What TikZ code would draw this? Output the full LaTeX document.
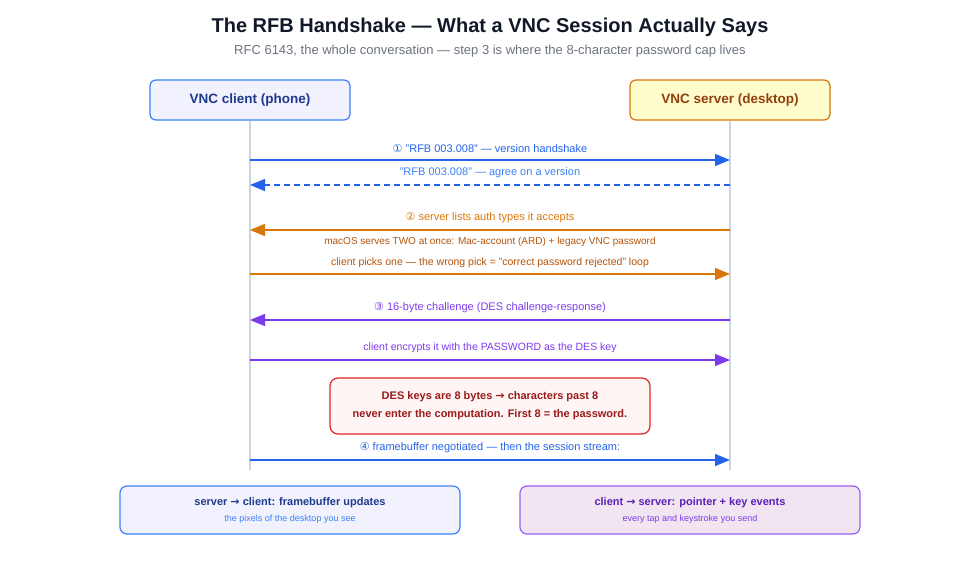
\documentclass[tikz,border=0pt]{standalone}
\usepackage{fontspec}
\setmainfont{Liberation Sans}
\newfontfamily\symfont{DejaVu Sans}
\usetikzlibrary{arrows.meta,positioning}
\definecolor{ink}{HTML}{111827}
\definecolor{grey}{HTML}{6B7280}
\definecolor{lane}{HTML}{CBD5E1}
\definecolor{cblue}{HTML}{2563EB}
\definecolor{lblue}{HTML}{3B82F6}
\definecolor{corange}{HTML}{D97706}
\definecolor{torange}{HTML}{B45309}
\definecolor{cpurple}{HTML}{7C3AED}
\definecolor{cred}{HTML}{DC2626}
\definecolor{navy}{HTML}{1E3A8A}
\definecolor{brown}{HTML}{92400E}
\definecolor{dred}{HTML}{991B1B}
\definecolor{dpurple}{HTML}{5B21B6}
\newcommand{\arr}{{\symfont\char"2192}}
\tikzset{
  actor/.style={draw, rounded corners=6pt, line width=1.2pt, minimum width=200pt, minimum height=40pt, font=\bfseries\fontsize{13.5}{16}\selectfont},
  lifeline/.style={lane, line width=1.2pt},
  msg/.style={line width=1.5pt, -{Triangle[length=15pt,width=12pt]}},
  lbl/.style={font=\fontsize{11}{13}\selectfont},
  panel/.style={draw, rounded corners=7pt, line width=1.2pt, minimum width=340pt, minimum height=48pt, align=center}
}
\begin{document}
\begin{tikzpicture}[x=1pt,y=-1pt]
\useasboundingbox (0,0) rectangle (980,560);
\node[font=\bfseries\fontsize{20}{24}\selectfont, text=ink] (title) at (490,27) {The RFB Handshake — What a VNC Session Actually Says};
\node[font=\fontsize{13}{15}\selectfont, text=grey] (sub) at (490,51) {RFC 6143, the whole conversation — step 3 is where the 8-character password cap lives};
% actors
\node[actor, draw=lblue, fill=blue!5, text=navy] (client) at (250,100) {VNC client (phone)};
\node[actor, draw=corange, fill=yellow!20, text=brown] (server) at (730,100) {VNC server (desktop)};
\coordinate (cend) at (250,470);
\coordinate (send) at (730,470);
\draw[lifeline] (client) -- (cend);
\draw[lifeline] (server) -- (send);
% messages
\foreach \y/\n in {160/a,185/b,230/c,274/d,320/e,360/f,460/g}{
  \coordinate (c\n) at (250,\y);
  \coordinate (s\n) at (730,\y);
}
\draw[msg, cblue] (ca) -- (sa);
\node[lbl, text=cblue] (la) at (490,148) {{\symfont ①} "RFB 003.008" — version handshake};
\draw[msg, cblue, dash pattern=on 6pt off 4pt] (sb) -- (cb);
\node[lbl, text=lblue] (lb) at (490,173) {"RFB 003.008" — agree on a version};
\draw[msg, corange] (sc) -- (cc);
\node[lbl, text=corange] (lc) at (490,218) {{\symfont ②} server lists auth types it accepts};
\node[lbl, text=torange, font=\fontsize{10}{12}\selectfont] (lc2) at (490,242) {macOS serves TWO at once: Mac-account (ARD) + legacy VNC password};
\draw[msg, corange] (cd) -- (sd);
\node[lbl, text=torange, font=\fontsize{10.5}{12}\selectfont] (ld) at (490,263) {client picks one — the wrong pick = "correct password rejected" loop};
\draw[msg, cpurple] (se) -- (ce);
\node[lbl, text=cpurple] (le) at (490,308) {{\symfont ③} 16-byte challenge (DES challenge-response)};
\draw[msg, cpurple] (cf) -- (sf);
\node[lbl, text=cpurple, font=\fontsize{10.5}{12}\selectfont] (lf) at (490,348) {client encrypts it with the PASSWORD as the DES key};
\node[draw=cred, fill=red!4, rounded corners=8pt, line width=1.2pt, minimum width=320pt, minimum height=56pt, align=center, text=dred, font=\bfseries\fontsize{11}{13}\selectfont] (des) at (490,406) {DES keys are 8 bytes \arr{} characters past 8\\[5pt]never enter the computation. First 8 = the password.};
\draw[msg, cblue] (cg) -- (sg);
\node[lbl, text=cblue] (lg) at (490,448) {{\symfont ④} framebuffer negotiated — then the session stream:};
% streams
\node[panel, draw=lblue, fill=blue!5] (down) at (290,510) {\textcolor{navy}{\bfseries\fontsize{11}{13}\selectfont server \arr{} client: framebuffer updates}\\[4pt]\textcolor{lblue}{\fontsize{9}{11}\selectfont the pixels of the desktop you see}};
\node[panel, draw=cpurple!80, fill=violet!10] (up) at (690,510) {\textcolor{dpurple}{\bfseries\fontsize{11}{13}\selectfont client \arr{} server: pointer + key events}\\[4pt]\textcolor{cpurple}{\fontsize{9}{11}\selectfont every tap and keystroke you send}};
\end{tikzpicture}
\end{document}
